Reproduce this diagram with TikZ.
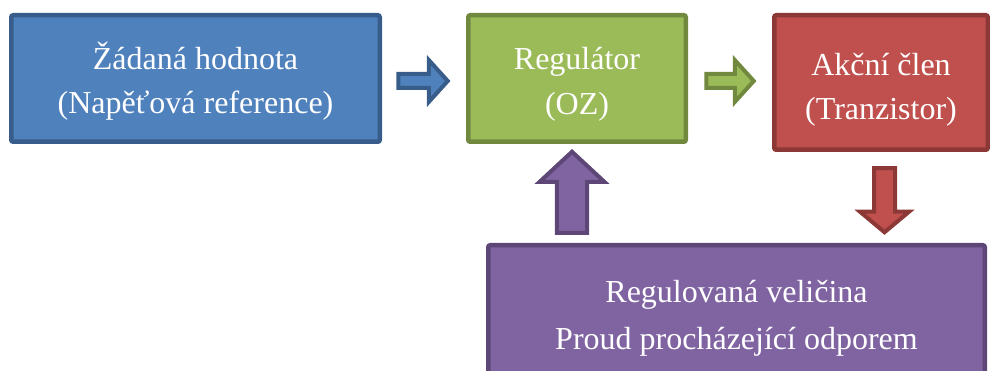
\documentclass[tikz,border=0pt]{standalone}
\usepackage{fontspec}
\setmainfont{Liberation Serif}
\usetikzlibrary{calc}
\definecolor{bluefill}{HTML}{4F81BD}
\definecolor{blueline}{HTML}{385D8A}
\definecolor{greenfill}{HTML}{9BBB59}
\definecolor{greenline}{HTML}{71893F}
\definecolor{redfill}{HTML}{C0504D}
\definecolor{redline}{HTML}{8C3836}
\definecolor{purplefill}{HTML}{8064A2}
\definecolor{purpleline}{HTML}{5C4776}
\newcommand\lstr[2]{\rule[-#2pt]{0pt}{\dimexpr #1pt + #2pt\relax}}
\tikzset{
  box/.style={rectangle, rounded corners=2pt, line width=4.5pt, inner sep=0pt,
    text=white, align=center},
  barrow/.style={line width=4pt, line join=miter},
}
\begin{document}
\begin{tikzpicture}[x=1pt,y=-1pt]
\useasboundingbox (0,0) rectangle (990,371);
\clip (0,0) rectangle (990,371);
\node[box, fill=bluefill, draw=blueline, minimum width=368.5pt, minimum height=126.5pt,
  font=\fontsize{32}{44}\selectfont] (blue) at (195.5,78.5)
  {\lstr{35.5}{8.5}Žádaná hodnota\\\lstr{35.5}{8.5}(Napěťová reference)};
\node[box, fill=greenfill, draw=greenline, minimum width=217.5pt, minimum height=126.5pt,
  font=\fontsize{32}{45.5}\selectfont] (green) at (577,78.5)
  {\lstr{36.5}{9}Regulátor\\\lstr{36.5}{9}(OZ)};
\node[box, fill=redfill, draw=redline, minimum width=213.5pt, minimum height=134.5pt,
  font=\fontsize{32}{44.5}\selectfont] (red) at (881,82.5)
  {\lstr{37.5}{7}Akční člen\\\lstr{37.5}{7}(Tranzistor)};
\node[box, fill=purplefill, draw=purpleline, minimum width=496.5pt, minimum height=134.5pt,
  font=\fontsize{32}{47}\selectfont] (purple) at (736.5,312.5)
  {\lstr{36.5}{10.5}Regulovaná veličina\\\lstr{36.5}{10.5}Proud procházející odporem};
% blue arrow
\coordinate (a1s) at ($(blue.east)+(16.25,2.5)$);
\coordinate (a1e) at ($(green.west)+(-18.25,2.5)$);
\draw[barrow, fill=bluefill, draw=blueline] let \p1=(a1s), \p2=(a1e) in
  (\x1,\y1-7pt) -- (\x2-19pt,\y1-7pt) -- (\x2-19pt,\y1-21pt) -- (\x2,\y1)
  -- (\x2-19pt,\y1+21pt) -- (\x2-19pt,\y1+7pt) -- (\x1,\y1+7pt) -- cycle;
% green arrow
\coordinate (a2s) at ($(green.east)+(18.25,2.5)$);
\coordinate (a2e) at ($(red.west)+(-18.25,-1.5)$);
\draw[barrow, fill=greenfill, draw=greenline] let \p1=(a2s), \p2=(a2e) in
  (\x1,\y1-7pt) -- (\x2-19pt,\y1-7pt) -- (\x2-19pt,\y1-21pt) -- (\x2,\y1)
  -- (\x2-19pt,\y1+21pt) -- (\x2-19pt,\y1+7pt) -- (\x1,\y1+7pt) -- cycle;
% red arrow (down)
\coordinate (a3s) at ($(red.south)+(3.5,16.25)$);
\coordinate (a3e) at ($(a3s |- purple.north)+(0,-10.75)$);
\draw[barrow, fill=redfill, draw=redline] let \p1=(a3s), \p2=(a3e) in
  (\x1-10.5pt,\y1) -- (\x1-10.5pt,\y2+20.5pt) -- (\x1-24.5pt,\y2+20.5pt) -- (\x1,\y2)
  -- (\x1+24.5pt,\y2+20.5pt) -- (\x1+10.5pt,\y2+20.5pt) -- (\x1+10.5pt,\y1) -- cycle;
% purple arrow (up)
\coordinate (a4s) at ($(green.south |- purple.north)+(-5,-10)$);
\coordinate (a4e) at ($(green.south)+(-5,7.75)$);
\draw[barrow, fill=purplefill, draw=purpleline] let \p1=(a4s), \p2=(a4e) in
  (\x1-15.2pt,\y1) -- (\x1-15.2pt,\y2-30.2pt) -- (\x1-32.5pt,\y2-30.2pt) -- (\x1,\y2)
  -- (\x1+32.5pt,\y2-30.2pt) -- (\x1+15.2pt,\y2-30.2pt) -- (\x1+15.2pt,\y1) -- cycle;
\end{tikzpicture}
\end{document}
